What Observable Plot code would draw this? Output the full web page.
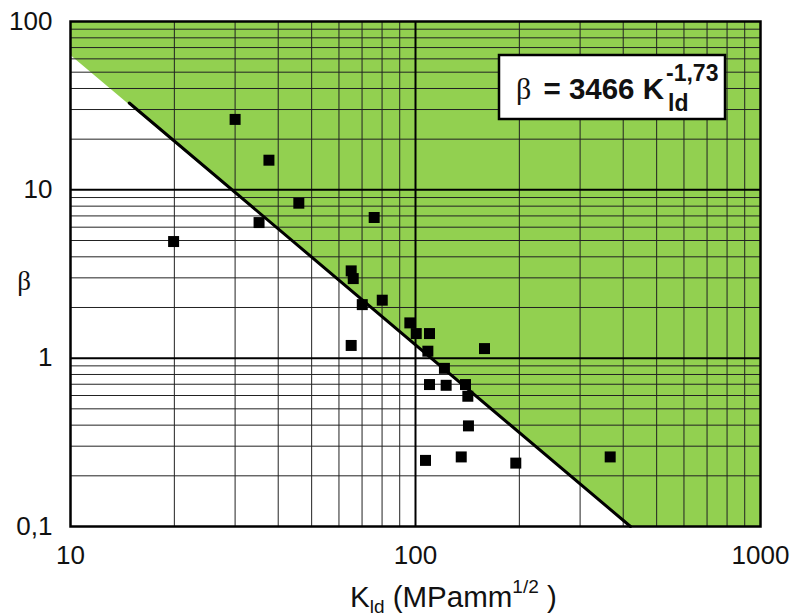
<!DOCTYPE html>
<html>
<head>
<meta charset="utf-8">
<script src="https://cdn.jsdelivr.net/npm/d3@7"></script>
<script src="https://cdn.jsdelivr.net/npm/@observablehq/plot@0.6"></script>
<style>
  html, body { margin: 0; padding: 0; background: #fff; }
  svg { display: block; }
</style>
</head>
<body>
<div id="chart"></div>
<script>
// ---- data ----
const pointK    = [30.0, 37.6, 45.9, 75.9, 35.2, 19.9, 65.1, 66.0, 80.1, 70.1, 65.1, 96.3, 100.5, 109.8, 158.5, 108.6, 121.3, 109.8, 122.7, 139.6, 141.8, 142.4, 135.7, 106.9, 195.3, 366.7];
const pointBeta = [26.2, 15.0, 8.33, 6.85, 6.39, 4.93, 3.30, 2.97, 2.21, 2.08, 1.19, 1.62, 1.40, 1.40, 1.14, 1.10, 0.870, 0.697, 0.69, 0.697, 0.594, 0.396, 0.259, 0.247, 0.238, 0.259];

const fitK    = [14.8, 420];
const fitBeta = [32.8, 0.1];

const greenK    = [10, 420, 1000];
const greenLow  = [63, 0.1, 0.1];
const greenHigh = [100, 100, 100];

const xTicks = [10, 100, 1000];
const yTicks = [0.1, 1, 10, 100];
const yTickLabels = ["0,1", "1", "10", "100"];
const majorK = [100];
const majorBeta = [1, 10];
const minorK = [20, 30, 40, 50, 60, 70, 80, 90, 200, 300, 400, 500, 600, 700, 800, 900];
const minorBeta = [0.2, 0.3, 0.4, 0.5, 0.6, 0.7, 0.8, 0.9, 2, 3, 4, 5, 6, 7, 8, 9, 20, 30, 40, 50, 60, 70, 80, 90];

const equationMain = "= 3466 K";
const equationExp = "-1,73";
const equationSub = "ld";
const yLabel = "β";

// ---- tables ----
const points = pointK.map((k, i) => ({K: k, b: pointBeta[i]}));
const fit = fitK.map((k, i) => ({K: k, b: fitBeta[i]}));
const green = greenK.map((k, i) => ({K: k, low: greenLow[i], high: greenHigh[i]}));

const sans = "'Liberation Sans', Arial, Helvetica, sans-serif";
const serif = "'Liberation Serif', 'Times New Roman', serif";

const svg = Plot.plot({
  width: 792,
  height: 615,
  marginLeft: 70,
  marginRight: 32,
  marginTop: 21,
  marginBottom: 89,
  x: {type: "log", domain: [10, 1000]},
  y: {type: "log", domain: [0.1, 100]},
  style: {fontFamily: sans, fontSize: "26px", background: "#fff", color: "#111", overflow: "visible"},
  marks: [
    Plot.areaY(green, {x: "K", y1: "low", y2: "high", fill: "#92D050", curve: "linear"}),
    Plot.ruleX(minorK, {stroke: "#222", strokeWidth: 1}),
    Plot.ruleY(minorBeta, {stroke: "#222", strokeWidth: 1}),
    Plot.ruleX(majorK, {stroke: "#000", strokeWidth: 2}),
    Plot.ruleY(majorBeta, {stroke: "#000", strokeWidth: 2}),
    Plot.line(fit, {x: "K", y: "b", stroke: "#000", strokeWidth: 3}),
    Plot.dot(points, {x: "K", y: "b", symbol: "square", r: 6.2, fill: "#000", stroke: "none"}),
    Plot.frame({stroke: "#000", strokeWidth: 2.5}),
    Plot.axisX({ticks: xTicks, tickSize: 0, tickPadding: 19, tickFormat: d => String(d), label: null, fontSize: 26}),
    Plot.axisY({ticks: yTicks, tickSize: 0, tickPadding: 18, tickFormat: d => yTickLabels[yTicks.indexOf(d)], label: null, fontSize: 26})
  ]
});

document.getElementById("chart").appendChild(svg);

const s = d3.select(svg);

// y-axis label
s.append("text")
  .attr("x", 24).attr("y", 290)
  .attr("text-anchor", "middle")
  .attr("font-family", serif)
  .attr("font-size", 27)
  .attr("fill", "#111")
  .text(yLabel);

// x-axis label with subscript / superscript
const xl = s.append("text")
  .attr("x", 350).attr("y", 606.5)
  .attr("text-anchor", "start")
  .attr("font-family", sans)
  .attr("font-size", 29.5)
  .attr("fill", "#111");
xl.append("tspan").text("K");
xl.append("tspan").attr("font-size", 19).attr("dy", 6).text("ld");
xl.append("tspan").attr("dy", -6).text(" (MPamm");
xl.append("tspan").attr("font-size", 19).attr("dy", -13.5).text("1/2");
xl.append("tspan").attr("dy", 13.5).text(" )");

// equation box
const g = s.append("g").attr("text-anchor", "start");
g.append("rect")
  .attr("x", 499).attr("y", 55).attr("width", 226).attr("height", 64)
  .attr("fill", "#fff").attr("stroke", "#000").attr("stroke-width", 2.5);
const eq = g.append("text")
  .attr("x", 516).attr("y", 99)
  .attr("text-anchor", "start")
  .attr("fill", "#111");
eq.append("tspan").attr("font-family", serif).attr("font-size", 30).text("β");
eq.append("tspan").attr("dx", 4).attr("font-family", sans).attr("font-weight", "bold").attr("font-size", 29.5).text(" " + equationMain);
const endX = 516 + 4 + eq.node().getComputedTextLength();
g.append("text")
  .attr("x", endX + 2).attr("y", 81)
  .attr("text-anchor", "start")
  .attr("font-family", sans).attr("font-weight", "bold").attr("font-size", 23)
  .attr("fill", "#111")
  .text(equationExp);
g.append("text")
  .attr("x", endX + 4).attr("y", 111)
  .attr("text-anchor", "start")
  .attr("font-family", sans).attr("font-weight", "bold").attr("font-size", 23)
  .attr("fill", "#111")
  .text(equationSub);
</script>
</body>
</html>
